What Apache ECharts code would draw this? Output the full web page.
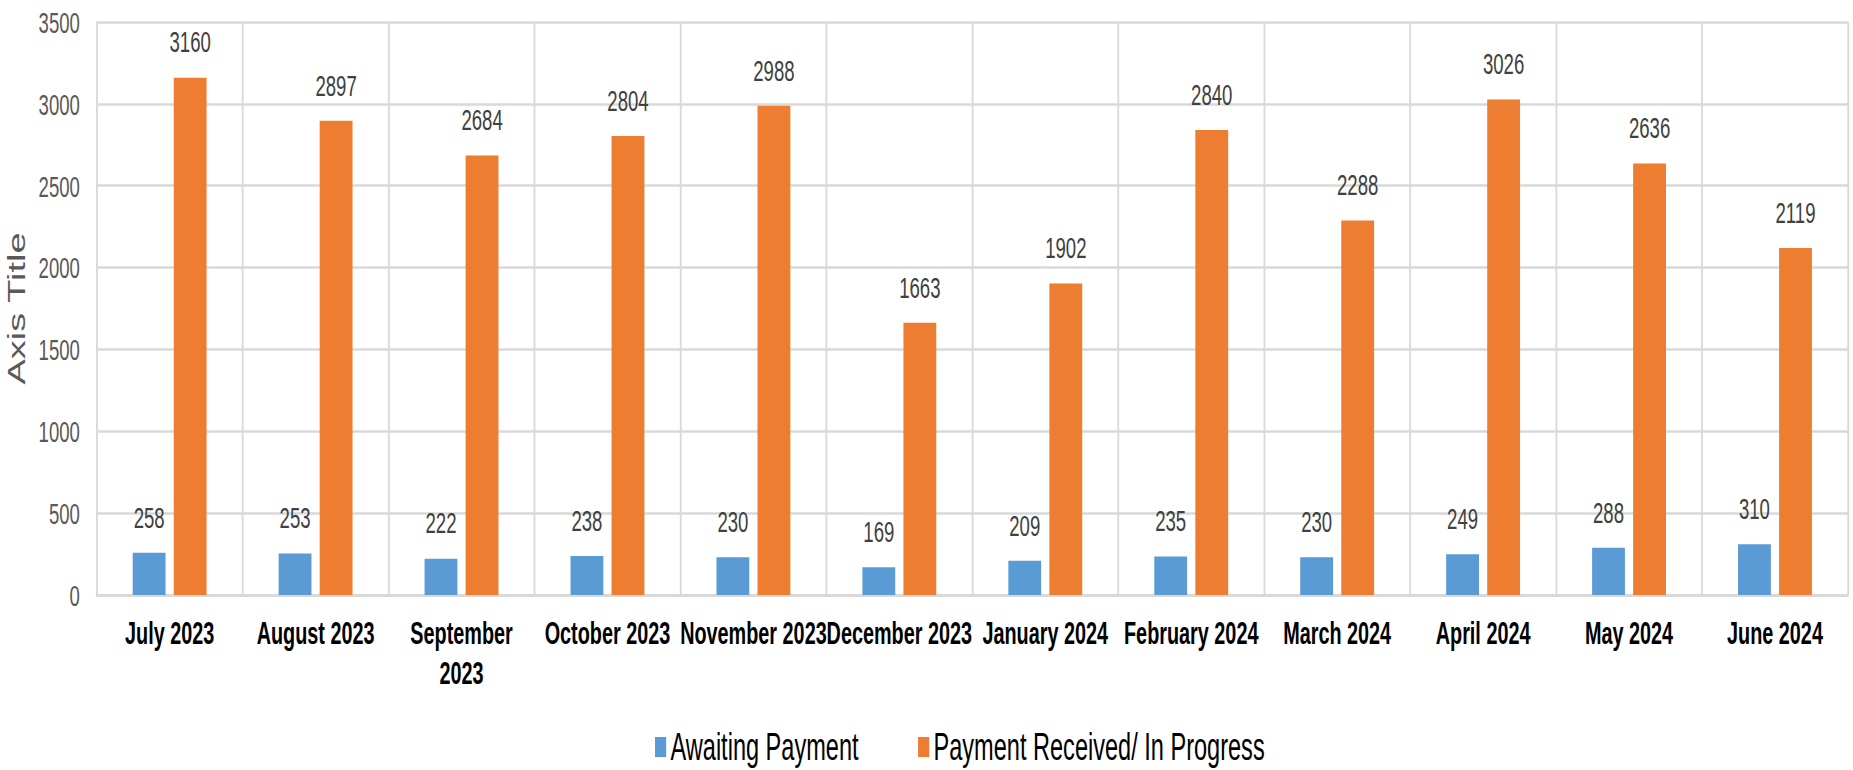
<!DOCTYPE html>
<html>
<head>
<meta charset="utf-8">
<title>Payments by month</title>
<script src="https://cdn.jsdelivr.net/npm/echarts@6/dist/echarts.min.js"></script>
<style>
  html, body { margin: 0; padding: 0; background: #fff; overflow: hidden; }
  /* the original picture is squeezed sideways, so the chart is drawn wide and squeezed back */
  #main { width: 2990px; height: 770px; transform: scaleX(0.6197); transform-origin: 0 0; }
</style>
</head>
<body>
<div id="main"></div>
<script>
var months = ['July 2023', 'August 2023', 'September 2023', 'October 2023', 'November 2023', 'December 2023',
              'January 2024', 'February 2024', 'March 2024', 'April 2024', 'May 2024', 'June 2024'];
var awaiting = [258, 253, 222, 238, 230, 169, 209, 235, 230, 249, 288, 310];
var received = [3160, 2897, 2684, 2804, 2988, 1663, 1902, 2840, 2288, 3026, 2636, 2119];
var yTicks = {min: 0, max: 3500, step: 500};

var font = "'Liberation Sans', Arial, sans-serif";
var gridColor = '#d9d9d9';

var myChart = echarts.init(document.getElementById('main'), null, {renderer: 'svg'});

var option = {
    animation: false,
    textStyle: {fontFamily: font},
    grid: {left: 156, right: 8, top: 22, bottom: 175, containLabel: false},
    legend: {
        left: 1052,
        top: 723,
        itemWidth: 18,
        itemHeight: 20,
        itemGap: 96,
        icon: 'rect',
        textStyle: {fontFamily: font, fontSize: 38, color: '#000', padding: [0, 0, 0, 2]},
        data: ['Awaiting Payment', 'Payment Received/ In Progress']
    },
    xAxis: {
        type: 'category',
        data: months,
        axisLine: {lineStyle: {color: gridColor, width: 3}},
        axisTick: {show: false},
        splitLine: {show: true, lineStyle: {color: gridColor, width: 3}},
        axisLabel: {
            interval: 0,
            margin: 18,
            fontFamily: font,
            fontSize: 32,
            fontWeight: 'bold',
            color: '#000',
            lineHeight: 40,
            formatter: function (v) {
                // only the longest name wraps in the original
                return v.length > 13 ? v.replace(' ', '\n') : v;
            }
        }
    },
    yAxis: {
        type: 'value',
        min: yTicks.min,
        max: yTicks.max,
        interval: yTicks.step,
        name: 'Axis Title',
        nameLocation: 'middle',
        nameGap: 110,
        nameTextStyle: {fontFamily: font, fontSize: 38, color: '#595959'},
        axisLine: {show: false},
        axisTick: {show: false},
        splitLine: {lineStyle: {color: gridColor, width: 2.5}},
        axisLabel: {
            margin: 27, fontFamily: font, fontSize: 30, color: '#595959',
            formatter: function (v) { return String(v); }
        }
    },
    series: [
        {
            name: 'Awaiting Payment',
            type: 'bar',
            data: awaiting,
            barWidth: '22.5%',
            barGap: '25%',
            itemStyle: {color: '#5b9bd5'},
            label: {show: true, position: 'top', distance: 21, fontFamily: font, fontSize: 30, color: '#404040'}
        },
        {
            name: 'Payment Received/ In Progress',
            type: 'bar',
            data: received,
            barWidth: '22.5%',
            barGap: '25%',
            itemStyle: {color: '#ed7d31'},
            label: {show: true, position: 'top', distance: 21, fontFamily: font, fontSize: 30, color: '#404040'}
        }
    ]
};

myChart.setOption(option);
</script>
</body>
</html>
